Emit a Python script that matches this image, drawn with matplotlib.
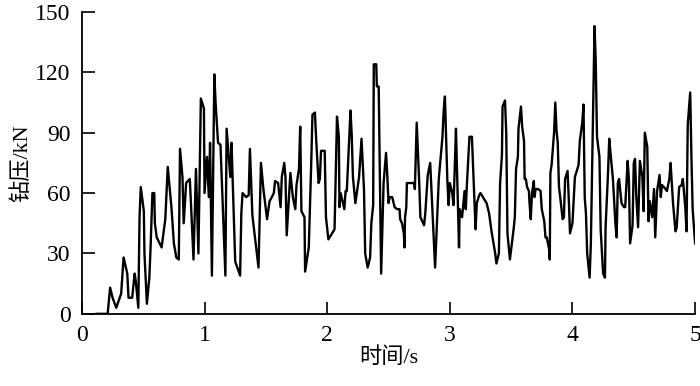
import matplotlib
matplotlib.use("Agg")
import matplotlib.pyplot as plt

# time (s) and weight on bit (kN)
time = [0.12, 0.21, 0.23, 0.25, 0.28, 0.32, 0.34, 0.37, 0.38, 0.41,
        0.43, 0.44, 0.46, 0.47, 0.48, 0.505, 0.51, 0.53, 0.55, 0.56,
        0.57, 0.575, 0.59, 0.595, 0.61, 0.65, 0.68, 0.70, 0.73, 0.75,
        0.77, 0.79, 0.80, 0.82, 0.83, 0.85, 0.88, 0.91, 0.93, 0.95,
        0.97, 0.995, 1.00, 1.02, 1.035, 1.045, 1.06, 1.08, 1.09, 1.11,
        1.13, 1.17, 1.18, 1.21, 1.22, 1.25, 1.29, 1.30, 1.31, 1.34,
        1.36, 1.37, 1.39, 1.44, 1.46, 1.48, 1.51, 1.53, 1.54, 1.565,
        1.575, 1.60, 1.62, 1.63, 1.65, 1.66, 1.67, 1.69, 1.70, 1.72,
        1.74, 1.75, 1.77, 1.78, 1.79, 1.815, 1.82, 1.85, 1.87, 1.88,
        1.90, 1.91, 1.93, 1.94, 1.95, 1.98, 1.99, 2.01, 2.06, 2.08,
        2.095, 2.10, 2.11, 2.14, 2.15, 2.16, 2.19, 2.20, 2.21, 2.23,
        2.26, 2.28, 2.30, 2.31, 2.33, 2.35, 2.36, 2.375, 2.38, 2.40,
        2.405, 2.42, 2.44, 2.45, 2.46, 2.48, 2.49, 2.50, 2.51, 2.53,
        2.55, 2.57, 2.59, 2.595, 2.61, 2.625, 2.63, 2.635, 2.645, 2.65,
        2.71, 2.715, 2.73, 2.75, 2.76, 2.79, 2.80, 2.82, 2.84, 2.85,
        2.87, 2.88, 2.90, 2.91, 2.93, 2.94, 2.95, 2.96, 2.98, 2.99,
        3.00, 3.02, 3.03, 3.04, 3.05, 3.075, 3.08, 3.10, 3.12, 3.13,
        3.14, 3.16, 3.18, 3.21, 3.22, 3.24, 3.25, 3.28, 3.29, 3.30,
        3.32, 3.34, 3.37, 3.38, 3.40, 3.41, 3.425, 3.43, 3.45, 3.46,
        3.47, 3.49, 3.52, 3.53, 3.54, 3.555, 3.56, 3.58, 3.59, 3.605,
        3.61, 3.62, 3.63, 3.645, 3.65, 3.66, 3.67, 3.685, 3.69, 3.70,
        3.72, 3.74, 3.75, 3.77, 3.78, 3.79, 3.81, 3.815, 3.82, 3.83,
        3.85, 3.86, 3.87, 3.88, 3.89, 3.90, 3.92, 3.93, 3.94, 3.96,
        3.97, 3.98, 4.00, 4.01, 4.02, 4.05, 4.06, 4.08, 4.09, 4.10,
        4.11, 4.12, 4.14, 4.15, 4.18, 4.19, 4.20, 4.22, 4.23, 4.25,
        4.265, 4.27, 4.28, 4.29, 4.30, 4.31, 4.33, 4.35, 4.36, 4.37,
        4.38, 4.40, 4.42, 4.43, 4.45, 4.46, 4.47, 4.49, 4.50, 4.51,
        4.52, 4.535, 4.545, 4.55, 4.57, 4.58, 4.59, 4.61, 4.62, 4.63,
        4.65, 4.665, 4.675, 4.69, 4.71, 4.72, 4.73, 4.76, 4.77, 4.79,
        4.80, 4.82, 4.84, 4.85, 4.87, 4.89, 4.90, 4.92, 4.93, 4.94,
        4.96, 4.97, 4.98, 5.00]
wob = [0, 0, 13, 8, 3, 10, 28, 20, 8, 8,
       20, 16, 3, 48, 63, 51, 30, 5, 18, 33,
       50, 60, 60, 45, 38, 33, 47, 73, 53, 35,
       28, 27, 82, 68, 45, 65, 67, 27, 72, 30,
       107, 102, 60, 78, 58, 85, 19, 119, 105, 85,
       84, 19, 92, 68, 85, 26, 19, 50, 60, 58,
       59, 82, 49, 23, 75, 62, 47, 56, 57, 60,
       66, 65, 53, 68, 75, 68, 39, 60, 70, 58,
       52, 64, 72, 93, 51, 48, 21, 33, 75, 99,
       100, 87, 65, 67, 81, 81, 48, 37, 42, 98,
       88, 53, 60, 52, 61, 61, 101, 89, 68, 55,
       68, 87, 62, 30, 23, 28, 45, 54, 124, 124,
       113, 113, 20, 43, 65, 80, 69, 55, 58, 58,
       53, 52, 52, 47, 45, 40, 33, 48, 53, 65,
       65, 62, 95, 66, 48, 44, 50, 69, 75, 62,
       36, 23, 52, 67, 81, 88, 101, 108, 66, 54,
       65, 60, 54, 72, 92, 33, 52, 48, 61, 52,
       65, 88, 88, 42, 55, 59, 60, 57, 56, 55,
       50, 41, 30, 25, 30, 65, 79, 103, 106, 90,
       40, 27, 42, 48, 72, 78, 92, 103, 93, 86,
       67, 67, 63, 61, 55, 47, 60, 66, 58, 62,
       62, 61, 52, 46, 38, 38, 32, 27, 70, 74,
       90, 105, 91, 85, 63, 58, 47, 48, 67, 71,
       57, 40, 45, 57, 68, 74, 86, 95, 104, 58,
       50, 30, 18, 35, 143, 125, 88, 78, 42, 20,
       18, 43, 56, 70, 87, 80, 67, 45, 38, 65,
       67, 55, 53, 53, 76, 67, 35, 44, 75, 77,
       59, 43, 65, 76, 68, 51, 90, 83, 46, 56,
       48, 62, 38, 61, 69, 58, 64, 62, 61, 67,
       75, 55, 41, 43, 63, 64, 67, 53, 41, 94,
       110, 78, 52, 35]

plt.rcParams['font.family'] = ['Liberation Serif', 'Noto Sans CJK SC']

fig = plt.figure(figsize=(7, 3.86), dpi=100)
ax = fig.add_axes([0.117, 0.187, 0.876, 0.782])
ax.plot(time, wob, color="black", lw=1.7)

ax.set_xlim(0, 5)
ax.set_ylim(0, 150)
ax.set_xticks([0, 1, 2, 3, 4, 5])
ax.set_yticks([0, 30, 60, 90, 120, 150])
ax.spines['top'].set_visible(False)
ax.spines['right'].set_visible(False)
ax.spines['left'].set_linewidth(1.3)
ax.spines['bottom'].set_linewidth(1.3)
ax.tick_params(direction="in", length=9, width=1.2, labelsize=17, pad=8)
ax.set_xlabel("时间/s", fontsize=16, labelpad=1)
ax.set_ylabel("钻压/kN", fontsize=16, labelpad=2)

fig.savefig("out.png", dpi=100)
